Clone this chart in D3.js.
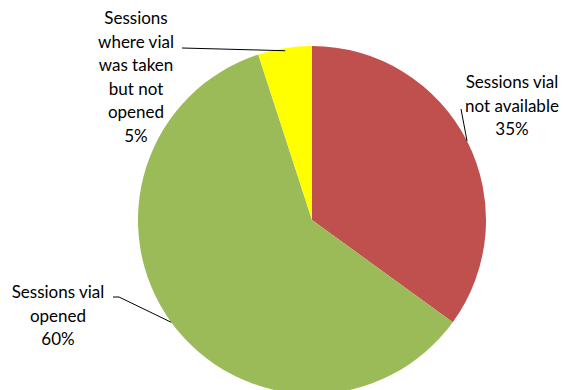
<!DOCTYPE html>
<html>
<head>
<meta charset="utf-8">
<script src="https://cdn.jsdelivr.net/npm/d3@7/dist/d3.min.js"></script>
<style>
  html, body { margin: 0; padding: 0; background: #fff; }
  svg { display: block; }
  text { font-family: Lato, "Open Sans", sans-serif; fill: #000; }
</style>
</head>
<body>
<svg id="chart" width="563" height="390"></svg>
<script>
// Session outcome shares (percent)
const categories = ["Sessions vial not available", "Sessions vial opened", "Sessions where vial was taken but not opened"];
const values = [35, 60, 5];
const colors = ["#C0504D", "#9BBB59", "#FFFF00"];
// Label text, split into lines, followed by the percentage line
const labelLines = [
  ["Sessions vial", "not available"],
  ["Sessions vial", "opened"],
  ["Sessions", "where vial", "was taken", "but not", "opened"]
];

// Layout: pie geometry and where each label block sits
const W = 563, H = 390;
const cx = 312, cy = 220, radius = 174;
const lineH = 23.5;
const labelLayout = [
  { x: 512, y: 88, elbow: null, end: [461, 109] },
  { x: 58, y: 298, elbow: [119, 297], end: [113, 297] },
  { x: 136, y: 24, elbow: null, end: [182, 48] }
];

const svg = d3.select("#chart");
const data = categories.map((c, i) => ({ name: c, value: values[i], color: colors[i], lines: labelLines[i], layout: labelLayout[i] }));

const pie = d3.pie().value(d => d.value).sort(null).startAngle(0).endAngle(2 * Math.PI);
const arcs = pie(data);
const arc = d3.arc().innerRadius(0).outerRadius(radius);

const g = svg.append("g").attr("transform", `translate(${cx},${cy})`);
g.selectAll("path.slice")
  .data(arcs)
  .enter().append("path")
  .attr("class", "slice")
  .attr("d", arc)
  .attr("fill", d => d.data.color);

// Leader lines from slice mid-angle on the rim to the label
const fmt = d => d3.format(".0%")(d.value / d3.sum(values));
arcs.forEach((a, i) => {
  const mid = (a.startAngle + a.endAngle) / 2;
  const rr = i === 2 ? radius * 0.985 : radius;
  const px = cx + rr * Math.sin(mid);
  const py = cy - rr * Math.cos(mid);
  const L = a.data.layout;
  const pts = [[px, py]];
  if (L.elbow) pts.push(L.elbow);
  pts.push(L.end);
  svg.append("path")
    .attr("d", d3.line()(pts))
    .attr("fill", "none")
    .attr("stroke", "#000")
    .attr("stroke-width", 1);

  const t = svg.append("text")
    .attr("text-anchor", "middle")
    .attr("font-size", 17);
  const lines = a.data.lines.concat([fmt(a.data)]);
  lines.forEach((s, k) => {
    t.append("tspan").attr("x", L.x).attr("y", L.y + k * lineH).text(s);
  });
});
</script>
</body>
</html>
